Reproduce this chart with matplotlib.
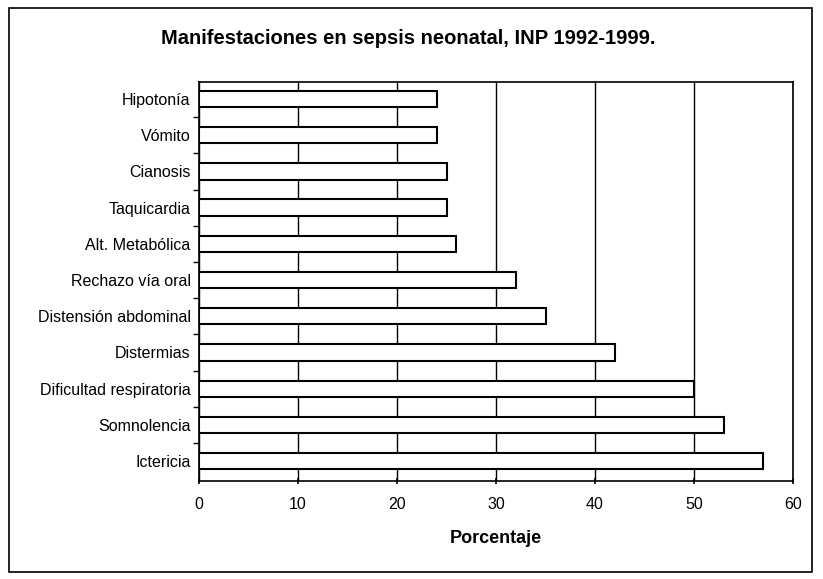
import matplotlib.pyplot as plt
from matplotlib.patches import Rectangle

plt.rcParams['font.family'] = ['Liberation Sans', 'DejaVu Sans']

# categories, bottom to top
manifestaciones = ['Ictericia', 'Somnolencia', 'Dificultad respiratoria', 'Distermias',
                   'Distensión abdominal', 'Rechazo vía oral', 'Alt. Metabólica',
                   'Taquicardia', 'Cianosis', 'Vómito', 'Hipotonía']
porcentaje = [57, 53, 50, 42, 35, 32, 26, 25, 25, 24, 24]
xticks = [0, 10, 20, 30, 40, 50, 60]

fig = plt.figure(figsize=(8.23, 5.79), dpi=100)
ax = fig.add_axes([0.2418, 0.1693, 0.7218, 0.6891])

ypos = list(range(len(manifestaciones)))
ax.barh(ypos, porcentaje, height=0.45, color='white', edgecolor='black',
        linewidth=1.5, zorder=3)

ax.set_xlim(0, 60)
ax.set_ylim(-0.55, 10.47)
ax.set_xticks(xticks)
ax.set_xticklabels([str(t) for t in xticks], fontsize=11.5)
ax.set_yticks(ypos)
ax.set_yticklabels(manifestaciones, fontsize=11.5)
ax.tick_params(axis='y', length=0, pad=6)
ax.set_yticks([y + 0.5 for y in ypos[:-1]], minor=True)
ax.tick_params(axis='y', which='minor', length=4, width=1)
ax.tick_params(axis='x', length=5, width=1.2, direction='inout', pad=9)
ax.grid(axis='x', color='black', linewidth=1.0, zorder=0)
ax.set_axisbelow(True)
for s in ax.spines.values():
    s.set_linewidth(1.2)

ax.set_xlabel('Porcentaje', fontsize=13, fontweight='bold', labelpad=13)
fig.text(0.496, 0.934, 'Manifestaciones en sepsis neonatal, INP 1992-1999.',
         ha='center', va='center', fontsize=14.5, fontweight='bold')

fig.patches.append(Rectangle((0.011, 0.012), 0.976, 0.975, transform=fig.transFigure,
                             fill=False, edgecolor='black', linewidth=1.2))

fig.savefig('out.png', dpi=100)
